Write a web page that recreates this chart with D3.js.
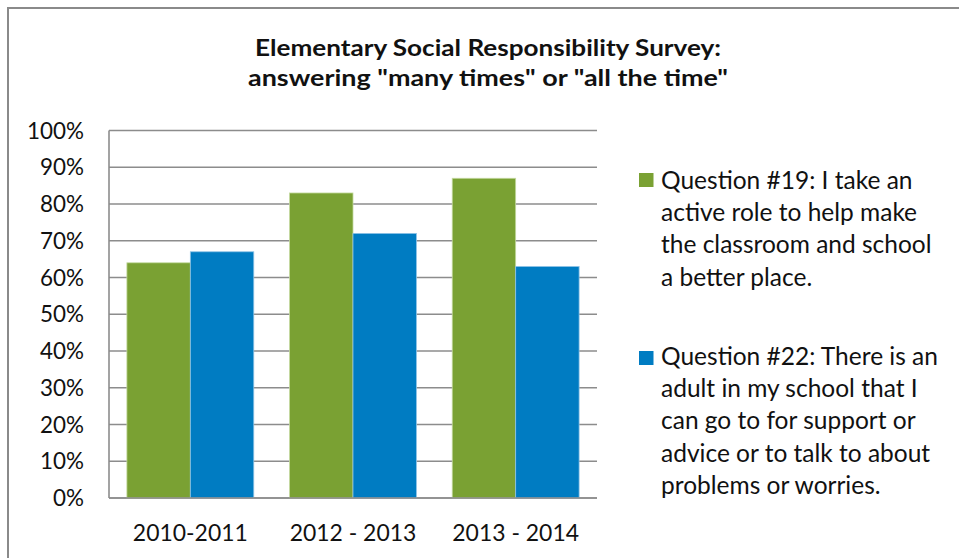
<!DOCTYPE html>
<html>
<head>
<meta charset="utf-8">
<script src="https://cdn.jsdelivr.net/npm/d3@7/dist/d3.min.js"></script>
<style>
  html, body { margin: 0; padding: 0; background: #fff; }
  svg { display: block; }
  text { font-family: Lato, "Open Sans", sans-serif; fill: #111; }
</style>
</head>
<body>
<svg id="chart" width="959" height="558"></svg>
<script>
// ---- data ----
const titleLines = ["Elementary Social Responsibility Survey:", "answering \"many times\" or \"all the time\""];
const categories = ["2010-2011", "2012 - 2013", "2013 - 2014"];
const seriesNames = ["Question #19", "Question #22"];
const q19 = [0.64, 0.83, 0.87];
const q22 = [0.67, 0.72, 0.63];
const yTicks = [0, 0.1, 0.2, 0.3, 0.4, 0.5, 0.6, 0.7, 0.8, 0.9, 1.0];
const legendLines19 = ["Question #19: I take an", "active role to help make", "the classroom and school", "a better place."];
const legendLines22 = ["Question #22: There is an", "adult in my school that I", "can go to for support or", "advice or to talk to about", "problems or worries."];
const colors = ["#7AA133", "#007CC2"];
const strokes = ["#c4d9a0", "#8fc3e6"];

// ---- layout ----
const svg = d3.select("#chart");
const plot = { left: 109, right: 597, top: 130.5, bottom: 498 };

// outer border
svg.append("rect").attr("x", 8).attr("y", 8).attr("width", 980).attr("height", 600)
  .attr("fill", "none").attr("stroke", "#8a8a8a").attr("stroke-width", 2);

// helper: fit font size so a string reaches a target width
function fitSize(str, weight, target, base) {
  const t = svg.append("text").attr("font-size", base).attr("font-weight", weight).text(str);
  const w = t.node().getComputedTextLength();
  t.remove();
  return base * target / w;
}

const x0 = d3.scaleBand().domain(categories).range([plot.left, plot.right])
  .paddingInner(0.22).paddingOuter(0.11);
const x1 = d3.scaleBand().domain(seriesNames).range([0, x0.bandwidth()]);
const y = d3.scaleLinear().domain([0, 1]).range([plot.bottom, plot.top]);

// gridlines
svg.append("g").selectAll("line").data(yTicks).join("line")
  .attr("x1", plot.left).attr("x2", plot.right)
  .attr("y1", d => y(d)).attr("y2", d => y(d))
  .attr("stroke", "#8c8c8c").attr("stroke-width", 1.6);

// bars
const rows = categories.map((c, i) => ({ c, vals: [q19[i], q22[i]] }));
const g = svg.append("g");
rows.forEach(r => {
  r.vals.forEach((v, j) => {
    g.append("rect")
      .attr("x", x0(r.c) + x1(seriesNames[j]))
      .attr("y", y(v))
      .attr("width", x1.bandwidth())
      .attr("height", y(0) - y(v))
      .attr("fill", colors[j])
      .attr("stroke", strokes[j]).attr("stroke-width", 0.8);
  });
});

// axis lines
svg.append("line").attr("x1", plot.left).attr("x2", plot.left).attr("y1", plot.top).attr("y2", plot.bottom)
  .attr("stroke", "#8c8c8c").attr("stroke-width", 1.6);
svg.append("line").attr("x1", plot.left).attr("x2", plot.right).attr("y1", plot.bottom).attr("y2", plot.bottom)
  .attr("stroke", "#8c8c8c").attr("stroke-width", 1.6);

// y tick labels
const ySize = fitSize("100%", 400, 57, 20);
svg.append("g").selectAll("text").data(yTicks).join("text")
  .attr("x", 84).attr("y", d => y(d)).attr("dy", "0.36em")
  .attr("text-anchor", "end").attr("font-size", ySize)
  .text(d => d3.format(".0%")(d));

// x labels
const xSize = fitSize("2010-2011", 400, 115, 20);
svg.append("g").selectAll("text").data(categories).join("text")
  .attr("x", d => x0(d) + x0.bandwidth() / 2).attr("y", 541)
  .attr("text-anchor", "middle").attr("font-size", xSize)
  .text(d => d);

// title (Calibri-like condensed: compress to measured widths)
const titleWidths = [466, 480];
svg.append("g").selectAll("text").data(titleLines).join("text")
  .attr("x", 488).attr("y", (d, i) => 55.5 + i * 30)
  .attr("text-anchor", "middle").attr("font-weight", 700).attr("font-size", 23)
  .attr("textLength", (d, i) => titleWidths[i]).attr("lengthAdjust", "spacingAndGlyphs")
  .text(d => d);

// legend
const lSize = fitSize(legendLines22[0], 400, 277, 20);
const legends = [
  { lines: legendLines19, base: 189, sq: 173, color: colors[0] },
  { lines: legendLines22, base: 365, sq: 351, color: colors[1] }
];
legends.forEach(L => {
  svg.append("rect").attr("x", 639).attr("y", L.sq).attr("width", 14.5).attr("height", 14)
    .attr("fill", L.color);
  svg.append("g").selectAll("text").data(L.lines).join("text")
    .attr("x", 661).attr("y", (d, i) => L.base + i * 32.2)
    .attr("font-size", lSize).text(d => d);
});
</script>
</body>
</html>
